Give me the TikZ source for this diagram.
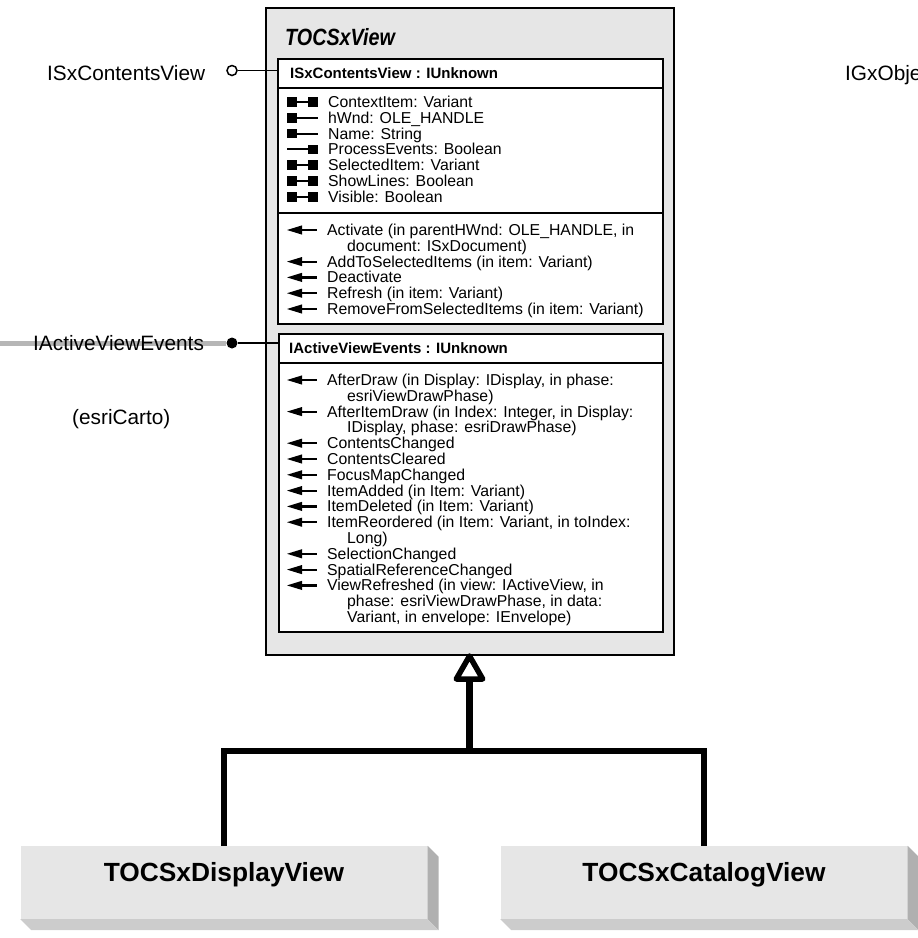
\documentclass[tikz,border=0pt]{standalone}
\usepackage{fontspec}
\setmainfont{Liberation Sans}
\newfontfamily\titlefont[FakeStretch=0.84]{Liberation Sans}
\usetikzlibrary{calc}
\definecolor{boxgray}{RGB}{230,230,230}
\definecolor{sidedark}{RGB}{176,176,176}
\definecolor{sidelight}{RGB}{204,204,204}
\definecolor{linkgray}{RGB}{182,182,182}
\begin{document}
\begin{tikzpicture}[x=1pt,y=-1pt,
  outerbox/.style={draw=black, line width=2pt, fill=boxgray, inner sep=0pt, anchor=north west},
  ifbox/.style={draw=black, line width=1.6pt, fill=white, inner sep=0pt, anchor=north west},
  sepline/.style={draw=black, line width=1.6pt},
  titletxt/.style={font=\titlefont\fontsize{23.5}{28}\selectfont\bfseries\itshape, anchor=base west, inner sep=0pt},
  headtxt/.style={font=\fontsize{15}{18}\selectfont\bfseries, anchor=base west, inner sep=0pt},
  mtxt/.style={font=\fontsize{15.8}{18}\selectfont, anchor=base west, inner sep=0pt},
  bigtxt/.style={font=\fontsize{20.8}{24}\selectfont, anchor=base west, inner sep=0pt},
  clsbox/.style={fill=boxgray, inner sep=0pt, minimum width=407pt, minimum height=73pt,
    font=\fontsize{26.3}{30}\selectfont\bfseries, text height=20pt, text depth=23pt},
  conn/.style={draw=black, line width=1.5pt},
  grayline/.style={draw=linkgray, line width=5pt},
  genline/.style={draw=black, line width=6.2pt},
  gentip/.style={draw=black, line width=5.5pt, line join=round, fill=white},
  rwicon/.pic={\fill (0,-4.8) rectangle (10,4.8); \fill (21,-4.8) rectangle (31,4.8); \draw[line width=2pt] (9,0) -- (22,0);},
  roicon/.pic={\fill (0,-4.8) rectangle (10,4.8); \draw[line width=2pt] (9,0) -- (31,0);},
  woicon/.pic={\fill (21,-4.8) rectangle (31,4.8); \draw[line width=2pt] (0,0) -- (22,0);},
  meicon/.pic={\fill (0,0) -- (15,-4.6) -- (15,4.6) -- cycle; \draw[line width=2.2pt] (13,0) -- (30,0);}
]
\useasboundingbox (0,0) rectangle (918,938);

% outer class box
\node[outerbox, minimum width=408pt, minimum height=647pt] (outer) at (265,7) {};
\node[titletxt] (title) at (285,45) {TOCSxView};

% interface box 1
\node[ifbox, minimum width=385pt, minimum height=265pt] (box1) at (277,58) {};
\draw[sepline] (277,88) -- (662,88);
\draw[sepline] (277,213) -- (662,213);
\node[headtxt] (h1) at (290,78.5) {ISxContentsView : IUnknown};

\pic at (287,102) {rwicon};
\pic at (287,117.8) {roicon};
\pic at (287,133.6) {roicon};
\pic at (287,149.4) {woicon};
\pic at (287,165.2) {rwicon};
\pic at (287,181) {rwicon};
\pic at (287,196.8) {rwicon};
\node[mtxt] (a1) at (328,107.5) {ContextItem: Variant};
\node[mtxt] (a2) at (328,123.3) {hWnd: OLE\_HANDLE};
\node[mtxt] (a3) at (328,139.1) {Name: String};
\node[mtxt] (a4) at (328,154.9) {ProcessEvents: Boolean};
\node[mtxt] (a5) at (328,170.7) {SelectedItem: Variant};
\node[mtxt] (a6) at (328,186.5) {ShowLines: Boolean};
\node[mtxt] (a7) at (328,202.3) {Visible: Boolean};

\pic at (287,230) {meicon};
\pic at (287,261.6) {meicon};
\pic at (287,277.4) {meicon};
\pic at (287,293.2) {meicon};
\pic at (287,309) {meicon};
\node[mtxt] (m1) at (327,235.5) {Activate (in parentHWnd: OLE\_HANDLE, in};
\node[mtxt] (m1b) at (347,251.3) {document: ISxDocument)};
\node[mtxt] (m2) at (327,267.1) {AddToSelectedItems (in item: Variant)};
\node[mtxt] (m3) at (327,282.9) {Deactivate};
\node[mtxt] (m4) at (327,298.7) {Refresh (in item: Variant)};
\node[mtxt] (m5) at (327,314.5) {RemoveFromSelectedItems (in item: Variant)};

% interface box 2
\node[ifbox, minimum width=384pt, minimum height=298pt] (box2) at (278,333) {};
\draw[sepline] (278,363) -- (662,363);
\node[headtxt] (h2) at (289,353.5) {IActiveViewEvents : IUnknown};

\foreach \yy in {380,411.6,443.2,459,474.8,490.6,506.4,522.2,553.8,569.6,585.4}
  {\pic at (287,\yy) {meicon};}
\node[mtxt] (e1) at (327,385.5) {AfterDraw (in Display: IDisplay, in phase:};
\node[mtxt] (e1b) at (347,401.3) {esriViewDrawPhase)};
\node[mtxt] (e2) at (327,417.1) {AfterItemDraw (in Index: Integer, in Display:};
\node[mtxt] (e2b) at (347,432.9) {IDisplay, phase: esriDrawPhase)};
\node[mtxt] (e3) at (327,448.7) {ContentsChanged};
\node[mtxt] (e4) at (327,464.5) {ContentsCleared};
\node[mtxt] (e5) at (327,480.3) {FocusMapChanged};
\node[mtxt] (e6) at (327,496.1) {ItemAdded (in Item: Variant)};
\node[mtxt] (e7) at (327,511.9) {ItemDeleted (in Item: Variant)};
\node[mtxt] (e8) at (327,527.7) {ItemReordered (in Item: Variant, in toIndex:};
\node[mtxt] (e8b) at (347,543.5) {Long)};
\node[mtxt] (e9) at (327,559.3) {SelectionChanged};
\node[mtxt] (e10) at (327,575.1) {SpatialReferenceChanged};
\node[mtxt] (e11) at (327,590.9) {ViewRefreshed (in view: IActiveView, in};
\node[mtxt] (e11b) at (347,606.7) {phase: esriViewDrawPhase, in data:};
\node[mtxt] (e11c) at (347,622.5) {Variant, in envelope: IEnvelope)};

% lollipops
\node[circle, draw=black, line width=1.5pt, fill=white, minimum size=10pt, inner sep=0pt] (lol1) at (232,70.5) {};
\draw[conn] (lol1) -- (lol1 -| box1.west);
\node[bigtxt] (l1) at (47,80) {ISxContentsView};

\coordinate (gstart) at (0,343);
\node[circle, fill=black, minimum size=11pt, inner sep=0pt] (dot1) at (232,343) {};
\draw[grayline] (gstart) -- (dot1.west);
\draw[conn] (dot1) -- (dot1 -| box2.west);
\node[bigtxt] (l2) at (33,350) {IActiveViewEvents};
\node[bigtxt] (l3) at (72,424) {(esriCarto)};
\node[bigtxt] (l4) at (845,80) {IGxObje};

% subclasses
\node[clsbox] (dv) at (224,882.5) {TOCSxDisplayView};
\node[clsbox] (cv) at (704,882.5) {TOCSxCatalogView};
\foreach \b in {dv,cv}{
  \fill[sidedark] (\b.north east) -- ++(11,11) -- ($(\b.south east)+(11,11)$) -- (\b.south east) -- cycle;
  \fill[sidelight] (\b.south west) -- (\b.south east) -- ++(11,11) -- ($(\b.south west)+(11,11)$) -- cycle;
}

% generalization
\coordinate (junc) at (469.5,751);
\coordinate (tipbase) at (469.5,679);
\coordinate (tipapex) at (469.5,656);
\draw[genline] (dv.north) |- (junc) -| (cv.north);
\draw[genline] (junc) -- (tipbase);
\draw[gentip] (tipapex) -- ($(tipbase)+(13.2,0)$) -- ($(tipbase)+(-13.2,0)$) -- cycle;
\end{tikzpicture}
\end{document}
